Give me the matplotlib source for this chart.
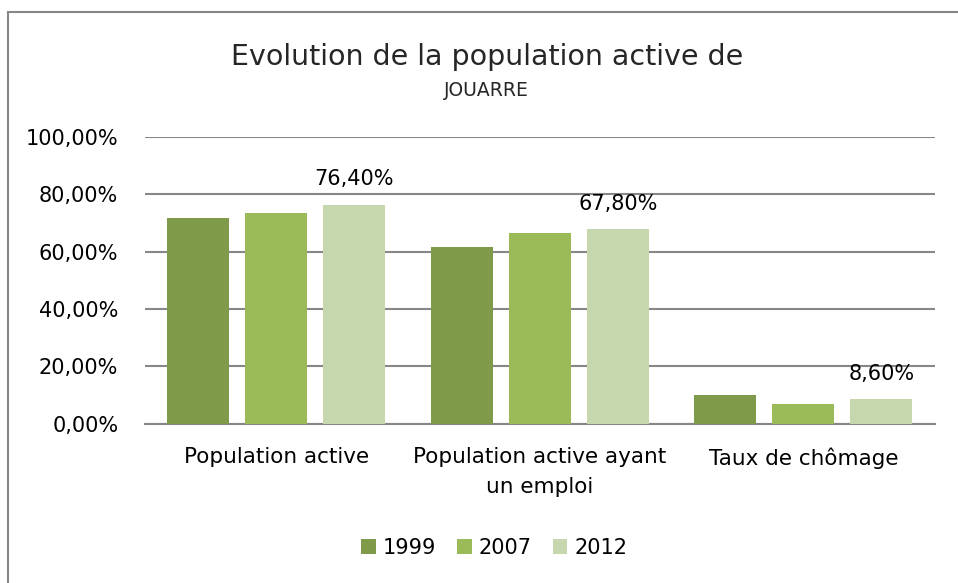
import numpy as np
import matplotlib.pyplot as plt
from matplotlib.patches import Rectangle

# Data
categories = ["Population active", "Population active ayant\nun emploi", "Taux de chômage"]
years = ["1999", "2007", "2012"]
v1999 = [71.6, 61.5, 10.0]
v2007 = [73.6, 66.5, 7.0]
v2012 = [76.4, 67.8, 8.6]
colors = ["#7F9A48", "#9BBB59", "#C6D6AD"]

fig = plt.figure(figsize=(9.58, 5.83), dpi=100)
ax = fig.add_axes([0.151, 0.273, 0.825, 0.492])

x = np.arange(len(categories))
w = 0.236
step = 0.296
series = [v1999, v2007, v2012]
bars = []
for i, vals in enumerate(series):
    b = ax.bar(x + (i - 1) * step, vals, width=w, color=colors[i], label=years[i], zorder=3)
    bars.append(b)

# labels only on 2012 series
for rect, v in zip(bars[2], v2012):
    ax.annotate(f"{v:.2f}%".replace(".", ","),
                (rect.get_x() + rect.get_width() / 2, rect.get_height()),
                xytext=(0, 11), textcoords="offset points",
                ha="center", va="bottom", fontsize=15)

ax.set_xlim(-0.5, 2.5)
ax.set_ylim(0, 100)
ax.set_yticks(range(0, 101, 20))
ax.set_yticklabels([f"{t},00%" for t in range(0, 101, 20)], fontsize=15)
ax.set_xticks(x)
ax.set_xticklabels(categories, fontsize=15.5, linespacing=1.6)
ax.tick_params(length=0)
ax.tick_params(axis="y", pad=19)
ax.tick_params(axis="x", pad=17)
ax.yaxis.grid(True, color="#878787", linewidth=1.5, zorder=0)
for s in ["top", "right", "left"]:
    ax.spines[s].set_visible(False)
ax.spines["bottom"].set_color("#878787")
ax.spines["bottom"].set_linewidth(1.5)

fig.text(0.508, 0.903, "Evolution de la population active de", ha="center", va="center",
         fontsize=20.5, color="#262626")
fig.text(0.508, 0.845, "JOUARRE", ha="center", va="center", fontsize=13.5,
         color="#262626")

leg = fig.legend(loc="center", bbox_to_anchor=(0.516, 0.06), ncol=3, frameon=False,
                 fontsize=15, handlelength=0.7, handleheight=0.7, handletextpad=0.35,
                 columnspacing=1.0)

# outer chart border (right and bottom edges fall outside the crop)
fig.patches.append(Rectangle((0.0085, -0.05), 1.1, 1.029, transform=fig.transFigure,
                             fill=False, edgecolor="#878787", linewidth=1.5))

fig.savefig("out.png", dpi=100)
